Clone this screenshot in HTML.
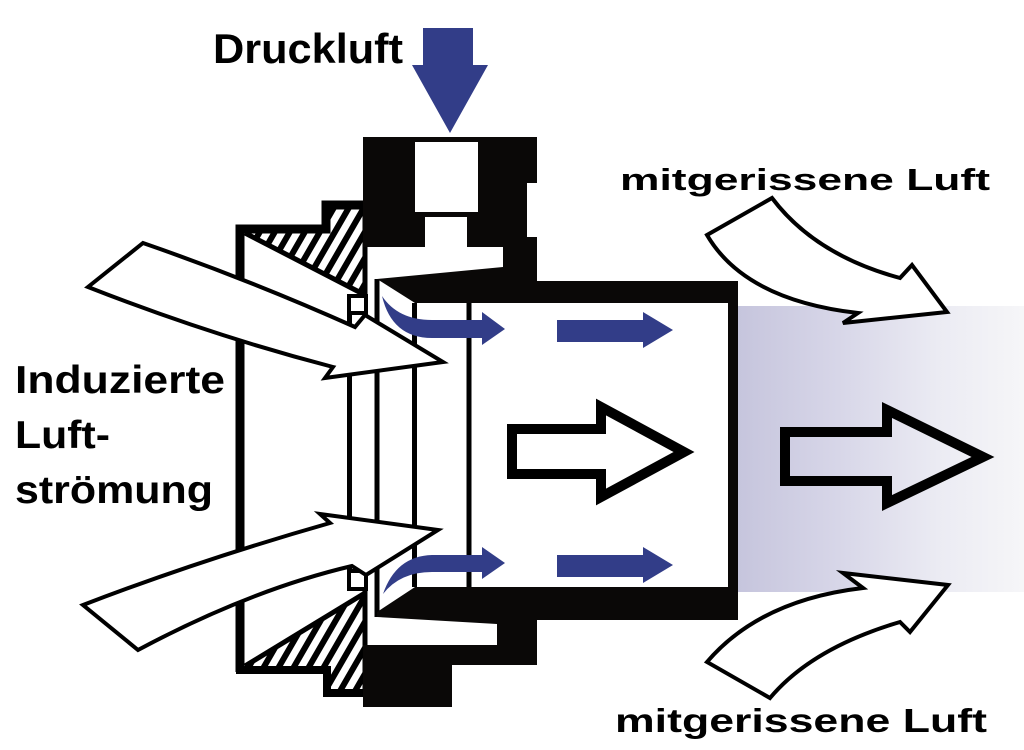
<!DOCTYPE html>
<html><head><meta charset="utf-8"><style>
html,body{margin:0;padding:0;background:#fff;}
svg{display:block;}
text{font-family:"Liberation Sans",Arial,sans-serif;font-weight:bold;fill:#000;}
</style></head><body>
<svg width="1024" height="750" viewBox="0 0 1024 750" xmlns="http://www.w3.org/2000/svg">
<defs>
<linearGradient id="lav" x1="0" y1="0" x2="1" y2="0">
<stop offset="0" stop-color="#c6c5dd"/>
<stop offset="0.35" stop-color="#d7d6e8"/>
<stop offset="0.7" stop-color="#ebebf3"/>
<stop offset="1" stop-color="#f6f6f8"/>
</linearGradient>
<pattern id="hatch" patternUnits="userSpaceOnUse" width="13" height="13" patternTransform="rotate(30)">
<rect x="0" y="0" width="13" height="13" fill="#fff"/>
<rect x="0" y="0" width="6" height="13" fill="#000"/>
</pattern>
</defs>
<rect width="1024" height="750" fill="#fff"/>
<!-- lavender jet region -->
<rect x="738" y="306" width="286" height="286" fill="url(#lav)"/>

<!-- hatched fills -->
<polygon points="245,233 326,233 326,209 364,209 364,294" fill="url(#hatch)"/>
<polygon points="245,666 364,594 364,690 330,690 330,666" fill="url(#hatch)"/>
<line x1="245" y1="233" x2="365" y2="295" stroke="#000" stroke-width="5"/>
<line x1="245" y1="666" x2="365" y2="593" stroke="#000" stroke-width="5"/>

<!-- frame lines -->
<path d="M240,672 V229 H326 V205 H366" fill="none" stroke="#000" stroke-width="9"/>
<path d="M236,670 H327 V693 H366" fill="none" stroke="#000" stroke-width="8"/>
<line x1="365" y1="205" x2="365" y2="297" stroke="#000" stroke-width="5"/>
<line x1="365" y1="588" x2="365" y2="697" stroke="#000" stroke-width="5"/>

<!-- vertical inner lines -->
<line x1="349.5" y1="313" x2="349.5" y2="570" stroke="#000" stroke-width="5"/>
<line x1="377" y1="279" x2="377" y2="617" stroke="#000" stroke-width="5"/>
<line x1="414.5" y1="303" x2="414.5" y2="587" stroke="#000" stroke-width="5"/>
<line x1="469" y1="303" x2="469" y2="587" stroke="#000" stroke-width="5"/>

<!-- top housing -->
<path d="M363,137 H537 V183 H527 V237 H537 V272 H503 V247 H363 Z" fill="#0a0807"/>
<rect x="415" y="142" width="63" height="70" fill="#fff"/>
<rect x="425" y="217" width="42" height="32" fill="#fff"/>
<!-- top band -->
<polygon points="377,279 503,267 537,267 537,281 738,281 738,303 415,303" fill="#0a0807"/>
<!-- right wall -->
<rect x="728" y="281" width="10" height="339" fill="#0a0807"/>
<!-- bottom band -->
<polygon points="415,587 738,587 738,620 537,620 537,624 497,624 377,617 377,612" fill="#0a0807"/>
<!-- bottom housing -->
<path d="M363,645 H497 V620 H537 V665 H452 V707 H363 Z" fill="#0a0807"/>

<!-- small squares -->
<rect x="349" y="296" width="17" height="17" fill="#fff" stroke="#000" stroke-width="4"/>
<rect x="349" y="571" width="17" height="18" fill="#fff" stroke="#000" stroke-width="4"/>

<!-- induced air arrows -->
<path d="M143,243 Q250,280 355,327 L365,315 L443,362 L325,378 L333,367 Q210,335 88,287 Z" fill="#fff" stroke="#000" stroke-width="4" stroke-linejoin="miter"/>
<path d="M83,605 Q200,560 330,523 L320,514 L438,530 L366,575 L352,566 Q250,590 138,650 Z" fill="#fff" stroke="#000" stroke-width="4" stroke-linejoin="miter"/>

<!-- blue arrows -->
<path d="M423,28 H473 V65 H488 L450,133 L412,65 H423 Z" fill="#323d88"/>
<path d="M382,296 Q398,320 432,320 H482 V312 L505,329 L482,345 V338 H432 Q392,338 382,296 Z" fill="#323d88"/>
<path d="M383,594 Q396,556 432,555 H482 V547 L505,563 L482,579 V572 H432 Q400,572 383,594 Z" fill="#323d88"/>
<path d="M557,320 H643 V312 L673,330 L643,348 V342 H557 Z" fill="#323d88"/>
<path d="M557,555 H643 V547 L673,565 L643,583 V577 H557 Z" fill="#323d88"/>

<!-- big outline arrows -->
<path d="M512,429 H601 V407 L684,452 L601,497 V474 H512 Z" fill="#fff" stroke="#000" stroke-width="10" stroke-linejoin="miter"/>
<path d="M785,432 H887 V410 L983,457 L887,503 V481 H785 Z" fill="none" stroke="#000" stroke-width="10" stroke-linejoin="miter"/>

<!-- entrained air arrows -->
<path d="M707,235 L772,198 Q815,255 900,278 L912,265 L947,312 L843,323 L858,313 Q745,300 707,235 Z" fill="#fff" stroke="#000" stroke-width="4" stroke-linejoin="miter"/>
<path d="M707,662 Q760,600 863,588 L843,573 L948,585 L910,632 L900,622 Q812,648 770,698 Z" fill="#fff" stroke="#000" stroke-width="4" stroke-linejoin="miter"/>

<!-- labels -->
<text x="213" y="63" font-size="42" textLength="190" lengthAdjust="spacingAndGlyphs">Druckluft</text>
<text x="620" y="190" font-size="31" textLength="370" lengthAdjust="spacingAndGlyphs">mitgerissene Luft</text>
<text x="615" y="732" font-size="33" textLength="372" lengthAdjust="spacingAndGlyphs">mitgerissene Luft</text>
<text x="15" y="393" font-size="39" textLength="210" lengthAdjust="spacingAndGlyphs">Induzierte</text>
<text x="15" y="448" font-size="39" textLength="95" lengthAdjust="spacingAndGlyphs">Luft-</text>
<text x="15" y="503" font-size="39" textLength="198" lengthAdjust="spacingAndGlyphs">strömung</text>
</svg>
</body></html>
